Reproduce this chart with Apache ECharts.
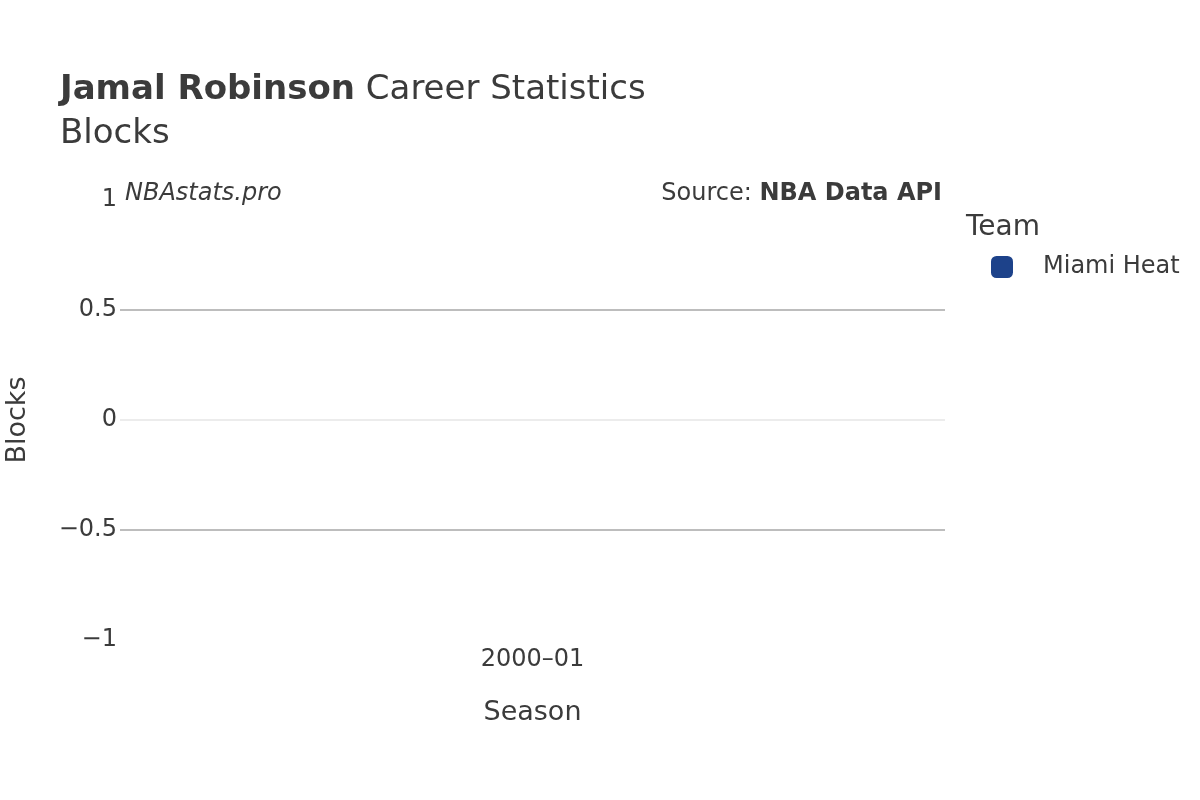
<!DOCTYPE html>
<html>
<head>
<meta charset="UTF-8">
<title>Jamal Robinson Blocks</title>
<script src="https://cdn.jsdelivr.net/npm/echarts@6/dist/echarts.min.js"></script>
<style>
  html, body { margin: 0; padding: 0; background: #fff; }
  #main { width: 1200px; height: 800px; }
</style>
</head>
<body>
<div id="main"></div>
<script>
// data
var seasons = ['2000–01'];
var teamName = 'Miami Heat';
var blocks = [0];
var yTicks = [-1, -0.5, 0, 0.5, 1];

var FONT = 'DejaVu Sans';
var TXT = '#3b3b3b';

var chart = echarts.init(document.getElementById('main'));

var option = {
  backgroundColor: '#fff',
  animation: false,
  textStyle: { fontFamily: FONT, color: TXT },
  title: {
    left: 60,
    top: 68,
    padding: 0,
    text: '{b|Jamal Robinson}{n| Career Statistics}\n{n|Blocks}',
    textStyle: {
      fontWeight: 'normal',
      rich: {
        b: { fontFamily: FONT, fontSize: 34, fontWeight: 'bold', color: TXT, lineHeight: 44 },
        n: { fontFamily: FONT, fontSize: 34, fontWeight: 'normal', color: TXT, lineHeight: 44 }
      }
    }
  },
  legend: {
    orient: 'vertical',
    left: 991,
    top: 255,
    padding: 0,
    icon: 'roundRect',
    itemWidth: 22,
    itemHeight: 22,
    data: [teamName],
    textStyle: { fontFamily: FONT, fontSize: 24, color: TXT, padding: [2, 0, 0, 25] }
  },
  grid: { left: 120, right: 255, top: 200, bottom: 160, outerBoundsMode: 'none', containLabel: false },
  xAxis: {
    type: 'category',
    data: seasons,
    axisLine: { show: false },
    axisTick: { show: false },
    axisLabel: { fontFamily: FONT, fontSize: 24, color: TXT, margin: 8 },
    name: 'Season',
    nameLocation: 'middle',
    nameGap: 59,
    nameTextStyle: { fontFamily: FONT, fontSize: 27, color: TXT }
  },
  yAxis: {
    type: 'value',
    min: yTicks[0],
    max: yTicks[yTicks.length - 1],
    interval: 0.5,
    axisLine: { show: false },
    axisTick: { show: false },
    axisLabel: {
      fontFamily: FONT, fontSize: 24, color: TXT, margin: 3,
      padding: [6, 0, 0, 0],
      formatter: function (v) { return String(v).replace('-', '\u2212'); }
    },
    splitLine: {
      lineStyle: {
        width: 2,
        color: ['rgba(0,0,0,0)', '#bdbdbd', '#ececec', '#bdbdbd', 'rgba(0,0,0,0)']
      }
    },
    name: 'Blocks',
    nameLocation: 'middle',
    nameGap: 89,
    nameTextStyle: { fontFamily: FONT, fontSize: 27, color: TXT }
  },
  graphic: [
    {
      type: 'text', left: 125, top: 182,
      style: { text: 'NBAstats.pro', fontFamily: FONT, fontSize: 24, fontStyle: 'italic', fill: TXT }
    },
    {
      type: 'text', right: 258, top: 182,
      style: {
        text: '{n|Source: }{b|NBA Data API}',
        rich: {
          n: { fontFamily: FONT, fontSize: 24, fill: TXT },
          b: { fontFamily: FONT, fontSize: 24, fontWeight: 'bold', fill: TXT }
        }
      }
    },
    {
      type: 'text', left: 966, top: 214,
      style: { text: 'Team', fontFamily: FONT, fontSize: 28, fill: TXT }
    }
  ],
  series: [{
    name: teamName,
    type: 'bar',
    data: blocks,
    barWidth: '90%',
    itemStyle: { color: '#1d428a' }
  }]
};

chart.setOption(option);
</script>
</body>
</html>
